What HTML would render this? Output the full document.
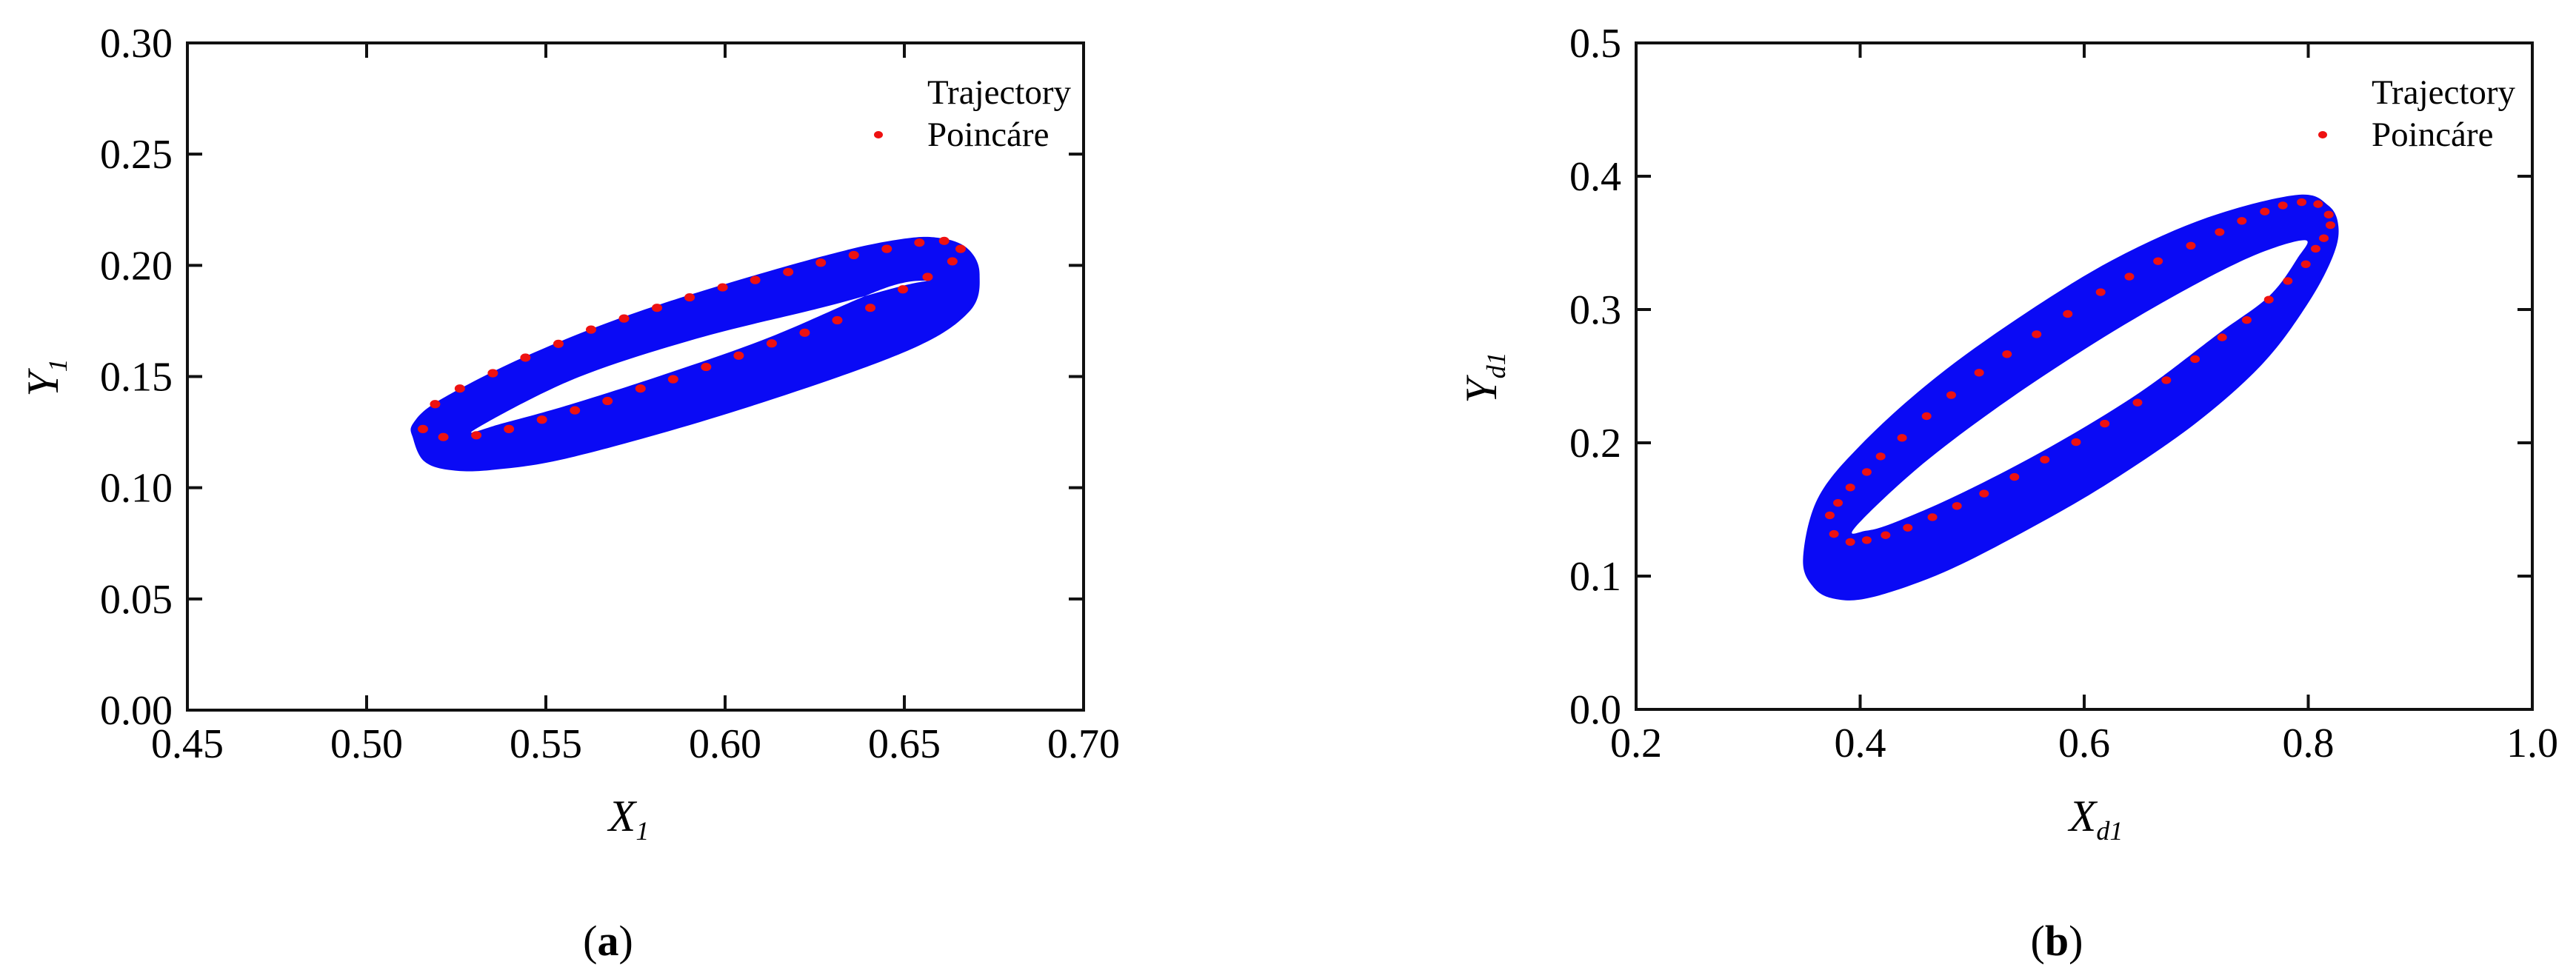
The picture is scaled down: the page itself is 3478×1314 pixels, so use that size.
<!DOCTYPE html>
<html><head><meta charset="utf-8">
<style>
html,body{margin:0;padding:0;background:#fff;}
svg{display:block;font-family:"Liberation Serif",serif;}
</style></head>
<body>
<svg id="fig" width="3478" height="1314" viewBox="0 0 3478 1314" xmlns="http://www.w3.org/2000/svg">
<rect x="0" y="0" width="3478" height="1314" fill="#fff"/>
<g id="pa"></g>
<g id="pb"></g>
<text x="821" y="1290" font-size="58" text-anchor="middle">(<tspan font-weight="bold">a</tspan>)</text>
<text x="2777" y="1290" font-size="58" text-anchor="middle">(<tspan font-weight="bold">b</tspan>)</text>
</svg>
<script>
// ---------- Panel (a) data ----------
const aXTicks=[0.45,0.50,0.55,0.60,0.65,0.70];
const aYTicks=[0.00,0.05,0.10,0.15,0.20,0.25,0.30];
const aXTickLabels=["0.45","0.50","0.55","0.60","0.65","0.70"];
const aYTickLabels=["0.00","0.05","0.10","0.15","0.20","0.25","0.30"];
const aOuterX=[0.513,0.516,0.523,0.535,0.558,0.604,0.650,0.668,0.671,0.668,0.661,0.650,0.627,0.581,0.547,0.521,0.513];
const aOuterY=[0.122,0.112,0.108,0.108,0.114,0.135,0.161,0.179,0.196,0.207,0.212,0.212,0.204,0.182,0.161,0.140,0.129];
const aInnerX=[0.530,0.558,0.592,0.627,0.650,0.657,0.645,0.613,0.585,0.558,0.538];
const aInnerY=[0.126,0.149,0.167,0.181,0.191,0.193,0.190,0.168,0.152,0.138,0.129];
const aPoinX=[0.5157,0.5191,0.5260,0.5352,0.5443,0.5535,0.5626,0.5718,0.5810,0.5901,0.5993,0.6084,0.6176,0.6267,0.6359,0.6451,0.6542,0.6611,0.6657,0.6634,0.6565,0.6496,0.6405,0.6313,0.6222,0.6130,0.6038,0.5947,0.5855,0.5764,0.5672,0.5581,0.5489,0.5397,0.5306,0.5214];
const aPoinY=[0.1264,0.1376,0.1446,0.1515,0.1585,0.1647,0.1711,0.1761,0.1809,0.1856,0.1901,0.1934,0.1970,0.2012,0.2046,0.2074,0.2102,0.2110,0.2074,0.2018,0.1948,0.1892,0.1809,0.1753,0.1697,0.1649,0.1594,0.1543,0.1488,0.1446,0.1390,0.1348,0.1306,0.1264,0.1236,0.1228];
// ---------- Panel (b) data ----------
const bXTicks=[0.2,0.4,0.6,0.8,1.0];
const bYTicks=[0.0,0.1,0.2,0.3,0.4,0.5];
const bXTickLabels=["0.2","0.4","0.6","0.8","1.0"];
const bYTickLabels=["0.0","0.1","0.2","0.3","0.4","0.5"];
const bOuterX=[0.349,0.358,0.377,0.410,0.475,0.550,0.622,0.700,0.760,0.800,0.822,0.827,0.818,0.790,0.710,0.625,0.540,0.463,0.400,0.362];
const bOuterY=[0.113,0.092,0.083,0.084,0.103,0.135,0.170,0.215,0.260,0.305,0.340,0.362,0.378,0.386,0.369,0.337,0.293,0.246,0.198,0.158];
const bInnerX=[0.395,0.450,0.520,0.600,0.680,0.750,0.797,0.790,0.765,0.720,0.650,0.570,0.490,0.430,0.405];
const bInnerY=[0.136,0.180,0.225,0.270,0.310,0.340,0.352,0.338,0.310,0.282,0.238,0.197,0.162,0.140,0.134];
const bPoinX=[0.3729,0.3802,0.3912,0.4059,0.4183,0.4374,0.4593,0.4813,0.5062,0.5311,0.5575,0.5853,0.6147,0.6403,0.6659,0.6952,0.7209,0.7407,0.7612,0.7773,0.7941,0.8088,0.8183,0.8198,0.8139,0.8066,0.7978,0.7817,0.7648,0.7451,0.7231,0.6989,0.6733,0.6476,0.6183,0.5927,0.5648,0.5377,0.5106,0.4864,0.4645,0.4425,0.4227,0.4059,0.3912,0.3766];
const bPoinY=[0.1456,0.1549,0.1665,0.1781,0.1898,0.2037,0.2200,0.2358,0.2526,0.2665,0.2814,0.2967,0.3130,0.3247,0.3363,0.3479,0.3581,0.3665,0.3735,0.3781,0.3805,0.3791,0.3712,0.3633,0.3535,0.3456,0.3340,0.3214,0.3074,0.2921,0.2791,0.2628,0.2470,0.2302,0.2144,0.2005,0.1874,0.1744,0.1619,0.1526,0.1442,0.1363,0.1307,0.1270,0.1256,0.1316];

const NS="http://www.w3.org/2000/svg";
function mk(parent,tag,attrs){const e=document.createElementNS(NS,tag);for(const k in attrs)e.setAttribute(k,attrs[k]);parent.appendChild(e);return e;}
function smooth(pts){let d="";const n=pts.length;
  for(let i=0;i<n;i++){const p0=pts[(i-1+n)%n],p1=pts[i],p2=pts[(i+1)%n],p3=pts[(i+2)%n];
    if(i===0)d+="M"+p1[0].toFixed(1)+","+p1[1].toFixed(1);
    const c1=[p1[0]+(p2[0]-p0[0])/6,p1[1]+(p2[1]-p0[1])/6],c2=[p2[0]-(p3[0]-p1[0])/6,p2[1]-(p3[1]-p1[1])/6];
    d+="C"+c1[0].toFixed(1)+","+c1[1].toFixed(1)+" "+c2[0].toFixed(1)+","+c2[1].toFixed(1)+" "+p2[0].toFixed(1)+","+p2[1].toFixed(1);}
  return d+"Z";}

function panel(g,cfg){
  const L=cfg.L,R=cfg.R,T=58,B=cfg.B;
  const sx=v=>L+(v-cfg.x0)/(cfg.x1-cfg.x0)*(R-L);
  const sy=v=>B-(v-cfg.y0)/(cfg.y1-cfg.y0)*(B-T);
  const outer=cfg.ox.map((v,i)=>[sx(v),sy(cfg.oy[i])]);
  const inner=cfg.ix.map((v,i)=>[sx(v),sy(cfg.iy[i])]);
  const band=mk(g,"path",{d:smooth(outer)+smooth(inner),fill:"#0a0af5","fill-rule":"evenodd"});
  
  
  cfg.px.forEach((v,i)=>{
    const c=mk(g,"ellipse",{cx:sx(v),cy:sy(cfg.py[i]),rx:cfg.mr,ry:cfg.mr*0.8,fill:"#ee1111"});
    
    
  });
  const fr=mk(g,"rect",{x:L,y:T,width:R-L,height:B-T,fill:"none",stroke:"#111","stroke-width":4});
  
  
  cfg.xt.forEach((v,i)=>{
    const x=sx(v);
    const t1=mk(g,"line",{x1:x,y1:B,x2:x,y2:B-20,stroke:"#111","stroke-width":4});
    
    
    const t2=mk(g,"line",{x1:x,y1:T,x2:x,y2:T+20,stroke:"#111","stroke-width":4});
    
    
    const tx=mk(g,"text",{x:x,y:B+64,"font-size":56,"text-anchor":"middle"});
    tx.textContent=cfg.xl[i];
    
    
  });
  cfg.yt.forEach((v,i)=>{
    const y=sy(v);
    const t1=mk(g,"line",{x1:L,y1:y,x2:L+20,y2:y,stroke:"#111","stroke-width":4});
    
    
    const t2=mk(g,"line",{x1:R,y1:y,x2:R-20,y2:y,stroke:"#111","stroke-width":4});
    
    
    const tx=mk(g,"text",{x:L-20,y:y+19,"font-size":56,"text-anchor":"end"});
    tx.textContent=cfg.yl[i];
    
    
  });
  const xt=mk(g,"text",{x:cfg.xtx,y:1122,"font-size":60,"text-anchor":"middle","font-style":"italic"});
  xt.innerHTML='X<tspan font-size="36" dy="12">'+cfg.sub+'</tspan>';
  
  
  const yt=mk(g,"text",{x:0,y:0,"font-size":60,"text-anchor":"middle","font-style":"italic",transform:"translate("+cfg.ytx+",510) rotate(-90)"});
  yt.innerHTML='Y<tspan font-size="36" dy="12">'+cfg.sub+'</tspan>';
  
  
  const l1=mk(g,"text",{x:cfg.lgx,y:140,"font-size":47});
  l1.textContent="Trajectory";
  
  
  const l2=mk(g,"text",{x:cfg.lgx,y:197,"font-size":47});
  l2.textContent="Poincáre";
  
  
  const lm=mk(g,"ellipse",{cx:cfg.lgx-66,cy:182,rx:6,ry:5,fill:"#ee1111"});
  
  
}
panel(document.getElementById("pa"),{L:253,R:1463,B:959,x0:0.45,x1:0.70,y0:0,y1:0.30,
  ox:aOuterX,oy:aOuterY,ix:aInnerX,iy:aInnerY,px:aPoinX,py:aPoinY,mr:7,
  xt:aXTicks,xl:aXTickLabels,yt:aYTicks,yl:aYTickLabels,xtx:849,ytx:78,sub:"1",lgx:1252});
panel(document.getElementById("pb"),{L:2209,R:3419,B:958,x0:0.2,x1:1.0,y0:0,y1:0.5,
  ox:bOuterX,oy:bOuterY,ix:bInnerX,iy:bInnerY,px:bPoinX,py:bPoinY,mr:6.5,
  xt:bXTicks,xl:bXTickLabels,yt:bYTicks,yl:bYTickLabels,xtx:2830,ytx:2020,sub:"d1",lgx:3202});
</script>
</body></html>
